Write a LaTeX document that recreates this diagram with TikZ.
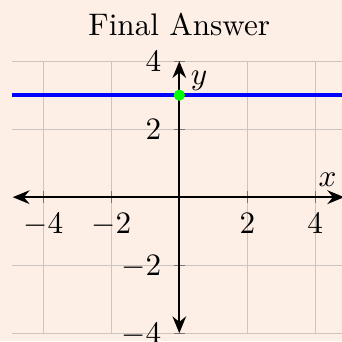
\documentclass[tikz,border=0pt]{standalone}
\usetikzlibrary{arrows.meta}
\definecolor{bgpeach}{RGB}{253,238,230}
\definecolor{gridc}{RGB}{204,196,192}
\definecolor{tickc}{RGB}{120,116,114}
\definecolor{ptgreen}{RGB}{0,255,0}
\begin{document}
\begin{tikzpicture}[x=10.9pt,y=10.9pt,
  gridline/.style={gridc, line width=0.4pt},
  tickmark/.style={tickc, line width=0.4pt},
  axisline/.style={black, line width=0.62pt, {Stealth[length=5.4pt,width=4.4pt,inset=1.8pt]}-{Stealth[length=5.4pt,width=4.4pt,inset=1.8pt]}},
  ticklab/.style={inner sep=0pt, font=\normalsize},
  graphline/.style={blue, line width=1.3pt},
  dot/.style={circle, fill=ptgreen, inner sep=0pt, minimum size=3.6pt}]
\fill[bgpeach] (-5.274,-4.235) rectangle (4.786,5.800);
\useasboundingbox (-5.274,-4.235) rectangle (4.786,5.800);
\clip (-5.274,-4.235) rectangle (4.786,5.800);
% grid
\foreach \x in {-4,-2,2,4} \draw[gridline] (\x,-4) -- (\x,4);
\foreach \y in {-4,-2,2,4} \draw[gridline] (-4.92,\y) -- (5,\y);
% ticks
\foreach \x in {-4,-2,2,4} \draw[tickmark] (\x,-0.17) -- (\x,0.17);
\foreach \y in {-4,-2,2,4} \draw[tickmark] (-0.17,\y) -- (0.17,\y);
% graph
\coordinate (gl) at (-4.92,3);
\coordinate (gr) at (5,3);
\draw[graphline] (gl) -- (gr);
% axes
\coordinate (xl) at (-4.9,0);
\coordinate (xr) at (4.85,0);
\coordinate (yb) at (0,-4);
\coordinate (yt) at (0,4);
\draw[axisline] (xl) -- (xr);
\draw[axisline] (yb) -- (yt);
% tick labels
\foreach \x/\t in {-4/$-4$,-2/$-2$,2/$2$,4/$4$}
  \node[ticklab, anchor=base] (xt\x) at (\x,-1.08) {\t};
\foreach \y/\t in {-4/$-4$,-2/$-2$,2/$2$,4/$4$}
  \node[ticklab, anchor=base east] (yt\y) at (-0.51,\y-0.29) {\t};
% axis labels
\node[ticklab, anchor=base west] (xlab) at (4.08,0.30) {$x$};
\node[ticklab, anchor=base west] (ylab) at (0.32,3.30) {$y$};
% point
\node[dot] (pt) at (0,3) {};
% title
\node[ticklab, anchor=base] (title) at (0,4.77) {Final Answer};
\end{tikzpicture}
\end{document}
